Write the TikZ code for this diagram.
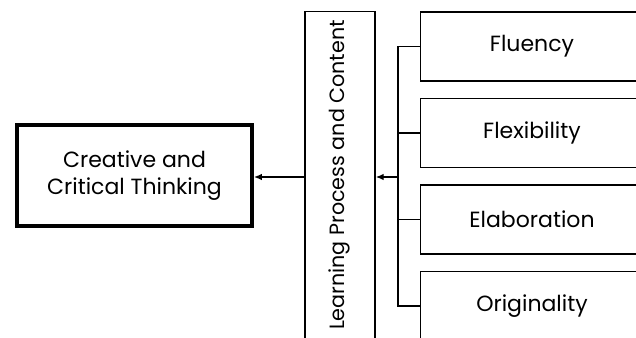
\documentclass[tikz,border=0pt]{standalone}
\usepackage{fontspec}
\setmainfont{Poppins}
\usetikzlibrary{arrows.meta}

\begin{document}
\begin{tikzpicture}[x=0.75pt,y=0.75pt,yscale=-1,xscale=1,
  every node/.style={font=\fontsize{16.5}{20.5}\selectfont,inner sep=0pt,align=center},
  traitbox/.style={draw,line width=1.1pt,minimum width=167pt,minimum height=52pt}]
%set diagram to 636 x 338
\clip (0,0) rectangle (636,338);

%Shape: Rectangle, thick
\node [draw,line width=3pt,minimum width=176pt,minimum height=76pt] (cct) at (134.5,175.5) {Creative and\\Critical Thinking};
%Shape: Rectangle, vertical
\node [draw,line width=1.1pt,minimum width=52.5pt,minimum height=250pt] (lpc) at (340,178) {};
\node [rotate=90,font=\fontsize{15.5}{19}\selectfont] (lpctext) at (339,175) {Learning Process and Content};

%Shapes: Rectangles on the right
\node [traitbox] (flu) at (532,46.5) {Fluency};
\node [traitbox] (fle) at (532,133) {Flexibility};
\node [traitbox] (ela) at (532,219.5) {Elaboration};
\node [traitbox] (ori) at (532,306) {Originality};

%Straight Lines: bracket
\coordinate (bus) at (398,177);
\draw [line width=1.1pt] (flu.west) -| (bus) |- (ori.west);
\draw [line width=1.1pt] (fle.west) -- (fle.west -| bus);
\draw [line width=1.1pt] (ela.west) -- (ela.west -| bus);

%Arrows
\draw [line width=1.1pt,-{Latex[length=6pt,width=5pt]}] (bus) -- (lpc.east |- bus);
\draw [line width=1.8pt,-{Latex[length=6pt,width=5pt]}] (lpc.west |- bus) -- (cct.east |- bus);

\end{tikzpicture}
\end{document}
